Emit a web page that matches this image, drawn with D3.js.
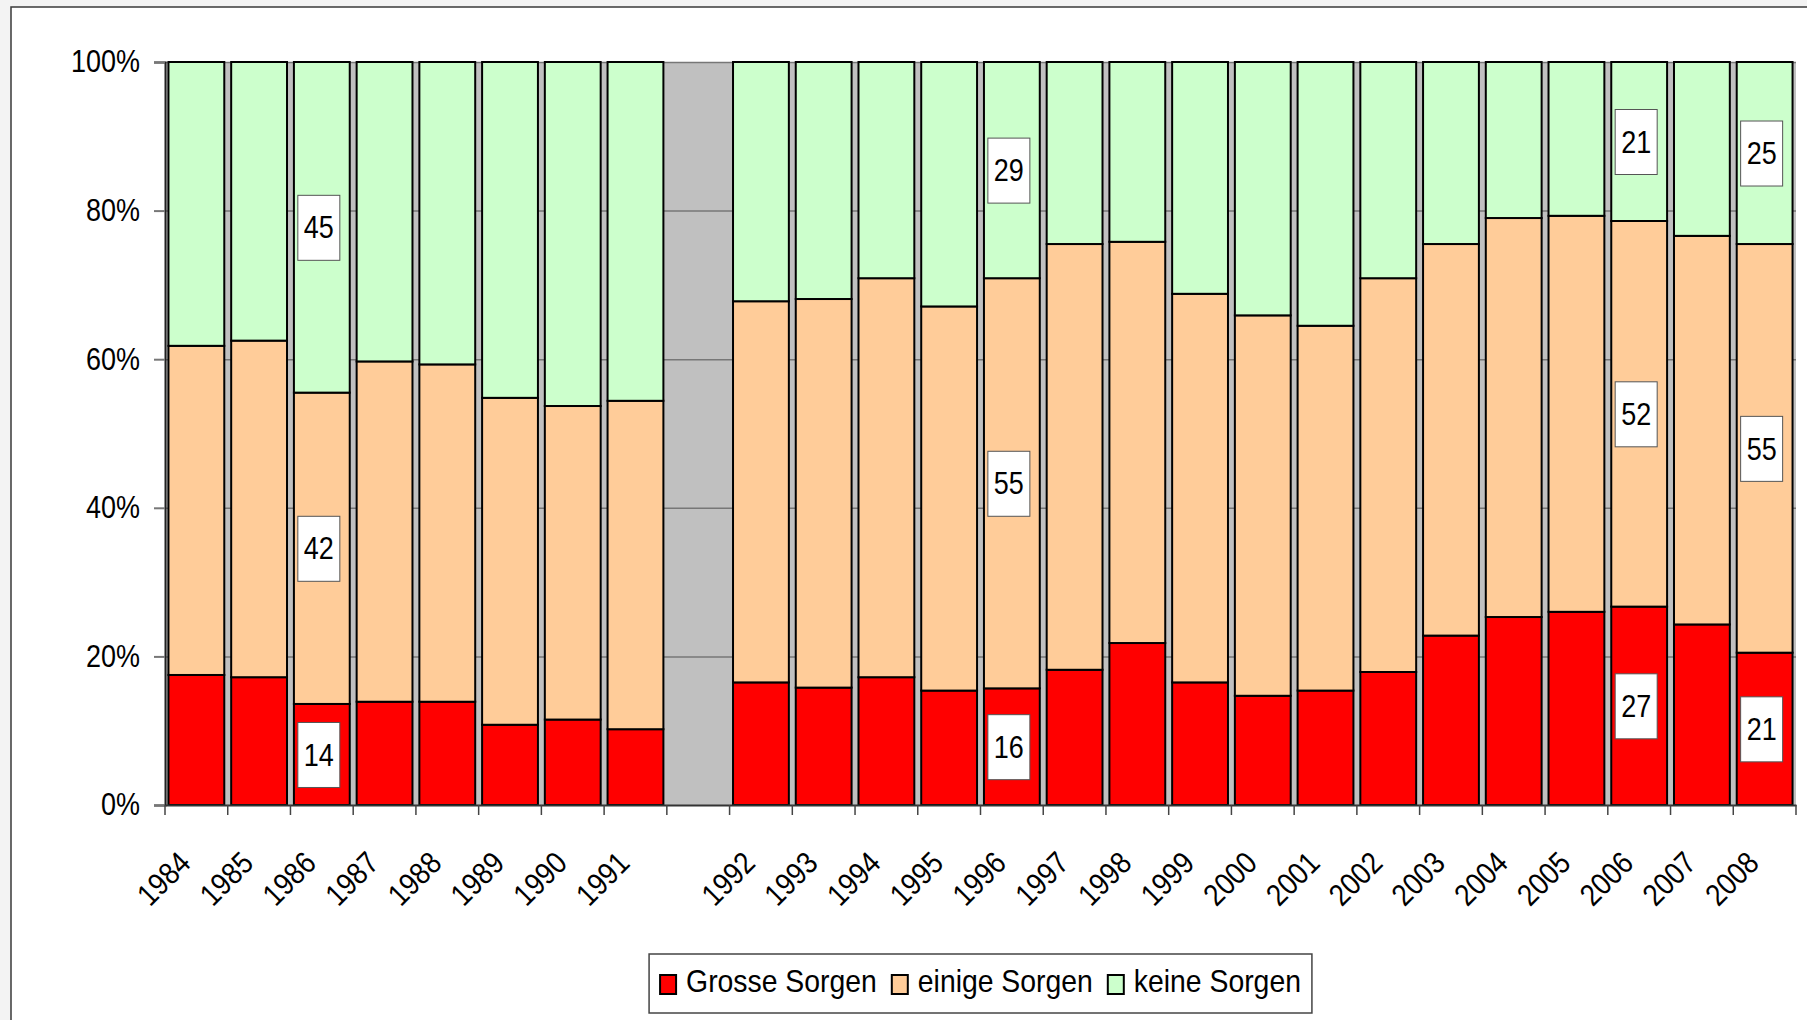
<!DOCTYPE html>
<meta charset="utf-8">
<style>
  body { margin: 0; background: #f3f3f3; }
  svg { display: block; }
  text { font-family: "Liberation Sans", Arial, Helvetica, sans-serif; fill: #000; }
</style>
<body>
<svg id="chart" width="1807" height="1020"></svg>
<script src="https://cdn.jsdelivr.net/npm/d3@7/dist/d3.min.js"></script>
<script>
// categories (the empty one is the break between 1991 and 1992)
var years = ["1984", "1985", "1986", "1987", "1988", "1989", "1990", "1991", "",
  "1992", "1993", "1994", "1995", "1996", "1997", "1998", "1999", "2000",
  "2001", "2002", "2003", "2004", "2005", "2006", "2007", "2008"];

// shares in %, null = no survey
var grosse = [17.5, 17.2, 13.6, 13.9, 13.9, 10.8, 11.5, 10.2, null,
  16.5, 15.8, 17.2, 15.4, 15.7, 18.2, 21.8, 16.5, 14.7, 15.4, 17.9, 22.8, 25.3, 26.0, 26.7, 24.3, 20.5];
var einige = [44.3, 45.3, 41.9, 45.8, 45.4, 44.0, 42.2, 44.2, null,
  51.3, 52.3, 53.7, 51.7, 55.2, 57.3, 54.0, 52.3, 51.2, 49.1, 53.0, 52.7, 53.7, 53.3, 51.9, 52.3, 55.0];
var keine = [38.2, 37.5, 44.5, 40.3, 40.7, 45.2, 46.3, 45.6, null,
  32.2, 31.9, 29.1, 32.9, 29.1, 24.5, 24.2, 31.2, 34.1, 35.5, 29.1, 24.5, 21.0, 20.7, 21.4, 23.4, 24.5];

var seriesNames = ["Grosse Sorgen", "einige Sorgen", "keine Sorgen"];
var seriesColors = ["#ff0000", "#ffcc99", "#ccffcc"];
var labelledYears = ["1986", "1996", "2006", "2008"];
var yTicks = [0, 0.2, 0.4, 0.6, 0.8, 1];

var squeeze = 0.87;   // the original font is a bit narrower than Arial
var legendSqueeze = 0.915;

var svg = d3.select("#chart");
var pLeft = 165, pRight = 1796, pTop = 62, pBottom = 805;

// white sheet with its frame
svg.append("rect").attr("x", 11).attr("y", 7).attr("width", 2000).attr("height", 2000)
  .attr("fill", "#fff").attr("stroke", "#3a3a3a").attr("stroke-width", 1.5);

var x = d3.scaleBand().domain(years).range([pLeft, pRight]).paddingInner(0.11).paddingOuter(0.055);
var y = d3.scaleLinear().domain([0, 1]).range([pBottom, pTop]);

// plot area
svg.append("rect").attr("x", pLeft).attr("y", pTop).attr("width", pRight - pLeft).attr("height", pBottom - pTop)
  .attr("fill", "#c0c0c0");

// grid lines
var grid = svg.append("g").attr("transform", "translate(" + pLeft + ",0)")
  .call(d3.axisLeft(y).tickValues(yTicks.slice(1)).tickSize(-(pRight - pLeft)).tickFormat(""));
grid.select(".domain").remove();
grid.selectAll("line").attr("stroke", "#777").attr("stroke-width", 1.5);

// data rows, skipping the empty year
var rows = [];
years.forEach(function (yr, i) {
  if (grosse[i] == null) return;
  rows.push({ year: yr, "Grosse Sorgen": grosse[i], "einige Sorgen": einige[i], "keine Sorgen": keine[i] });
});

var stack = d3.stack().keys(seriesNames).offset(d3.stackOffsetExpand);
var layers = stack(rows);

var gLayers = svg.selectAll("g.layer").data(layers).enter().append("g")
  .attr("class", "layer")
  .attr("fill", function (d, i) { return seriesColors[i]; });

gLayers.selectAll("rect").data(function (d) { return d; }).enter().append("rect")
  .attr("x", function (d) { return x(d.data.year); })
  .attr("width", x.bandwidth())
  .attr("y", function (d) { return y(d[1]); })
  .attr("height", function (d) { return y(d[0]) - y(d[1]); })
  .attr("stroke", "#000")
  .attr("stroke-width", 2);

// y axis
var yAxis = svg.append("g").attr("transform", "translate(" + pLeft + ",0)")
  .call(d3.axisLeft(y).tickValues(yTicks).tickFormat(d3.format(".0%")).tickSize(11).tickPadding(0));
yAxis.select(".domain").attr("stroke", "#222").attr("stroke-width", 2);
yAxis.selectAll(".tick line").attr("stroke", "#777").attr("stroke-width", 2);
yAxis.selectAll(".tick text")
  .attr("font-size", "31px")
  .attr("x", -25 / squeeze)
  .attr("transform", "scale(" + squeeze + ",1)");

// x axis: labels from the band scale, tick marks at the slot borders
var xAxis = svg.append("g").attr("transform", "translate(0," + pBottom + ")")
  .call(d3.axisBottom(x).tickSize(0).tickPadding(0));
xAxis.select(".domain").attr("stroke", "#333").attr("stroke-width", 2);
xAxis.selectAll(".tick text")
  .attr("font-size", "31px")
  .attr("text-anchor", "end")
  .attr("y", 0).attr("dy", 0)
  .attr("transform", "translate(-4,60) rotate(-45) scale(" + squeeze + ",1)");

var half = x.step() * x.paddingInner() / 2;
var borders = years.map(function (d) { return x(d) - half; });
borders.push(x(years[years.length - 1]) + x.bandwidth() + half);
xAxis.selectAll("line.slot").data(borders).enter().append("line")
  .attr("class", "slot")
  .attr("x1", function (d) { return d; }).attr("x2", function (d) { return d; })
  .attr("y1", 0).attr("y2", 10)
  .attr("stroke", "#444").attr("stroke-width", 1.5);

// data labels on selected years
var labelData = [];
layers.forEach(function (layer) {
  layer.forEach(function (d) {
    if (labelledYears.indexOf(d.data.year) >= 0) {
      labelData.push({ year: d.data.year, mid: (d[0] + d[1]) / 2, value: d.data[layer.key] });
    }
  });
});

var gLabels = svg.selectAll("g.dlabel").data(labelData).enter().append("g")
  .attr("class", "dlabel")
  .attr("transform", function (d) {
    return "translate(" + (x(d.year) + x.bandwidth() / 2 - 3) + "," + y(d.mid) + ")";
  });
gLabels.append("rect")
  .attr("x", -21).attr("y", -32).attr("width", 42).attr("height", 65)
  .attr("fill", "#fff").attr("stroke", "#555").attr("stroke-width", 1);
gLabels.append("text")
  .attr("font-size", "31px")
  .attr("text-anchor", "middle")
  .attr("dy", "0.36em")
  .attr("transform", "scale(" + squeeze + ",1)")
  .text(function (d) { return Math.round(d.value); });

// legend
var legend = svg.append("g");
var legendBox = legend.append("rect")
  .attr("fill", "#fff").attr("stroke", "#444").attr("stroke-width", 1.5);
var items = legend.selectAll("g.item").data(seriesNames).enter().append("g").attr("class", "item");
items.append("rect")
  .attr("width", 16).attr("height", 19).attr("y", -17)
  .attr("fill", function (d, i) { return seriesColors[i]; })
  .attr("stroke", "#000").attr("stroke-width", 2);
items.append("text")
  .attr("font-size", "31px")
  .attr("x", 26 / legendSqueeze)
  .attr("transform", "scale(" + legendSqueeze + ",1)")
  .text(function (d) { return d; });

var pos = 0, widths = [];
items.each(function () {
  var w = 26 + this.querySelector("text").getComputedTextLength() * legendSqueeze;
  widths.push(w);
});
var gapW = 15;
var totalW = d3.sum(widths) + gapW * (widths.length - 1);
var startX = (pLeft + pRight) / 2 - totalW / 2;
items.attr("transform", function (d, i) {
  var tx = startX + pos;
  pos += widths[i] + gapW;
  return "translate(" + tx + ",992)";
});
legendBox.attr("x", startX - 11).attr("y", 954).attr("width", totalW + 22).attr("height", 59);
</script>
</body>
